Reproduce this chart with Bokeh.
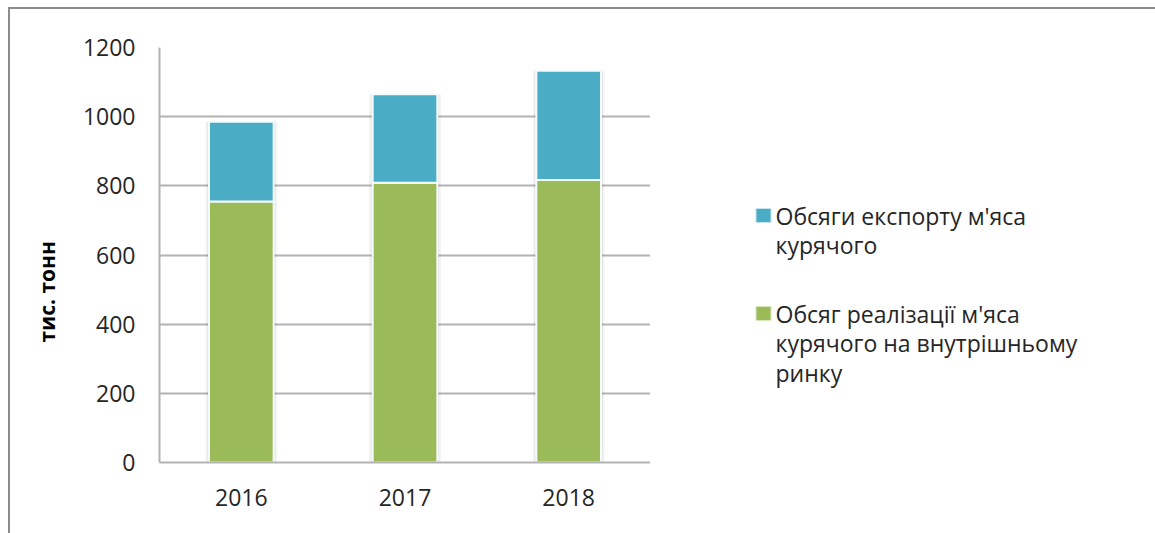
from bokeh.plotting import figure
from bokeh.layouts import row
from bokeh.models import (ColumnDataSource, FixedTicker, Title, Range1d,
                          InlineStyleSheet)
from bokeh.core.properties import value
from bokeh.embed import file_html
from bokeh.resources import INLINE

years = ["2016", "2017", "2018"]
domestic = [755, 809, 817]   # Обсяг реалізації на внутрішньому ринку
export = [230, 256, 316]     # Обсяги експорту
y_ticks = [0, 200, 400, 600, 800, 1000, 1200]

legend_lines = [["Обсяги експорту м'яса", "курячого"],
                ["Обсяг реалізації м'яса", "курячого на внутрішньому", "ринку"]]
y_title = "тис. тонн"

FONT = "Open Sans"
BLUE = "#4BACC6"
GREEN = "#9BBB59"
legend_colors = [BLUE, GREEN]
legend_edges = ["#c4e4ee", "#d6e6bd"]
GRID = "#b3b3b3"
TEXT = "#262626"

totals = [d + e for d, e in zip(domestic, export)]
src = ColumnDataSource(dict(year=years, domestic=domestic, export=export,
                            total=totals))

p = figure(x_range=years, y_range=(0, 1200), width=650, height=533,
           output_backend="svg", toolbar_location=None,
           min_border_left=159, min_border_right=0,
           min_border_top=47, min_border_bottom=71)
p.x_range.range_padding = 0
p.outline_line_color = None
p.background_fill_color = "white"
p.border_fill_color = "white"

# outer frame of the chart (left & top edges visible)
p.stylesheets = [InlineStyleSheet(css=""":host::after {
  content: ""; position: absolute; left: 8px; top: 7px; right: 0px; bottom: -10px;
  border-left: 2px solid #8c8c8c; border-top: 2px solid #8c8c8c;
  pointer-events: none; }""")]

# soft shadow behind bars
p.vbar(x="year", top="total", width=0.44, source=src, fill_color="black",
       fill_alpha=0.04, line_color=None)
p.vbar(x="year", top="total", width=0.42, source=src, fill_color="black",
       fill_alpha=0.06, line_color=None)

p.vbar_stack(["domestic", "export"], x="year", width=0.395, source=src,
             color=[GREEN, BLUE], line_color="#f4fbfd", line_width=2)

# axes
p.yaxis.ticker = FixedTicker(ticks=y_ticks)
p.yaxis.major_tick_line_color = None
p.yaxis.minor_tick_line_color = None
p.yaxis.axis_line_color = GRID
p.yaxis.axis_line_width = 2
p.yaxis.major_label_text_font = FONT
p.yaxis.major_label_text_font_size = "23px"
p.yaxis.major_label_text_color = TEXT
p.yaxis.major_label_standoff = 18

p.xaxis.major_tick_line_color = None
p.xaxis.axis_line_color = GRID
p.xaxis.axis_line_width = 2
p.xaxis.major_label_text_font = FONT
p.xaxis.major_label_text_font_size = "23px"
p.xaxis.major_label_text_color = TEXT
p.xaxis.major_label_standoff = 20

p.xgrid.grid_line_color = None
p.ygrid.grid_line_color = GRID
p.ygrid.grid_line_width = 2

# y-axis title
p.add_layout(Title(text=y_title, align="left", offset=120, standoff=37,
                   text_font=FONT, text_font_style="bold",
                   text_font_size="21px", text_color="black"), "left")

# legend panel (pixel-scaled ranges, y downwards; frame aligned with main plot)
p2 = figure(width=505, height=533, x_range=Range1d(0, 505),
            y_range=Range1d(462, 47), output_backend="svg",
            toolbar_location=None, x_axis_location=None, y_axis_location=None,
            min_border_left=0, min_border_right=0,
            min_border_top=47, min_border_bottom=71)
p2.grid.grid_line_color = None
p2.outline_line_color = None
p2.border_fill_color = "white"
p2.background_fill_color = "white"
p2.stylesheets = [InlineStyleSheet(css=""":host::after {
  content: ""; position: absolute; left: 0px; top: 7px; right: 0px; bottom: -10px;
  border-top: 2px solid #8c8c8c; pointer-events: none; }""")]

item_center = [215, 313]   # first-line centre of each legend entry
pitch = 29.5
sq_x, sq_y = [], []
txt, tx, ty = [], [], []
for lines, c in zip(legend_lines, item_center):
    sq_x.append(113)
    sq_y.append(c)
    for k, line in enumerate(lines):
        txt.append(line)
        tx.append(125)
        ty.append(c + k * pitch)

p2.rect(x=sq_x, y=sq_y, width=15, height=14, fill_color=legend_colors,
        line_color=legend_edges, line_width=1)
p2.text(x=tx, y=ty, text=txt, text_font=value(FONT), text_font_size="23px",
        text_color=TEXT, text_baseline="middle", text_align="left")

open("out.html", "w").write(file_html(row(p, p2), INLINE))
